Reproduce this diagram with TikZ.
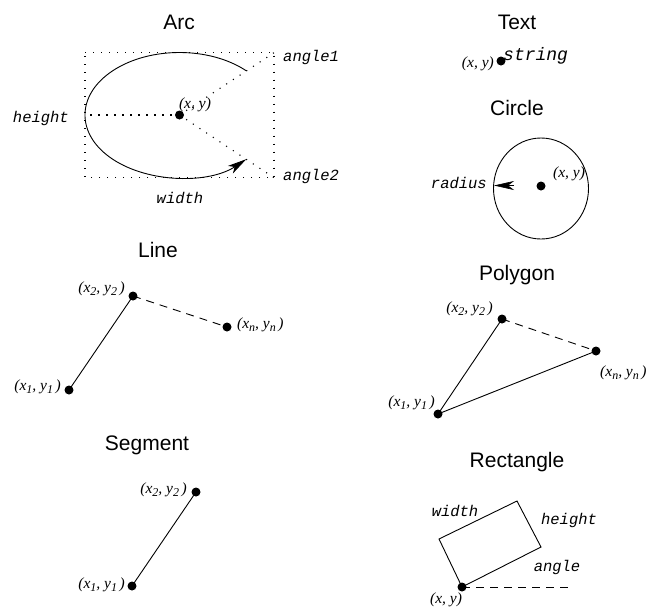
\documentclass[tikz,border=0pt]{standalone}
\usepackage{fontspec}
\setmainfont{Liberation Serif}
\newfontfamily\titlef{Liberation Sans}
\newfontfamily\monof{Liberation Mono}
\usetikzlibrary{arrows.meta}
\newcommand{\sbs}[1]{\raisebox{-0.45ex}{\fontsize{12}{12}\selectfont #1}}
\begin{document}
\begin{tikzpicture}[x=1pt,y=1pt,
  ttl/.style={font=\titlef\fontsize{21}{21}\selectfont, inner sep=0},
  mono/.style={font=\monof\itshape\fontsize{15.5}{16}\selectfont, inner sep=0},
  crd/.style={font=\itshape\fontsize{15.5}{16}\selectfont, inner sep=0},
  dot/.style={circle,fill,inner sep=0,minimum size=9pt},
  ln/.style={line width=0.9pt},
  dsh/.style={line width=0.9pt,dash pattern=on 8pt off 6pt},
  dtd/.style={line width=1.1pt,dash pattern=on 1.1pt off 6.9pt},
  tip/.style={-{Stealth[length=19pt,width=9pt,inset=5pt]}}
]
\useasboundingbox (0,0) rectangle (655,-606);

% ---------------- Arc ----------------
\node[ttl] (arct) at (179,-22) {Arc};
\coordinate (rtl) at (85,-52.7);
\coordinate (rtr) at (274,-52.7);
\coordinate (rbr) at (274,-177.7);
\coordinate (rbl) at (85,-177.7);
\coordinate (rml) at (85,-115);
\draw[dtd] (rtl) -- (rtr) -- (rbr) -- (rbl) -- cycle;
\node[dot] (arcc) at (179.5,-115) {};
\draw[dtd] (arcc.center) -- (rtr);
\draw[dtd] (arcc.center) -- (rbr);
\draw[dtd] (arcc.center) -- (rml);
\coordinate (arcs) at (246.3,-70.8);
\draw[ln,tip] (arcs) arc[start angle=45,end angle=315,x radius=94.5,y radius=62.5];
\node[crd] (arcxy) at (195,-105) {(x, y)};
\node[mono,anchor=west] (ang1) at (283,-57) {angle1};
\node[mono,anchor=west] (ang2) at (283,-176) {angle2};
\node[mono,anchor=east] (hgt) at (69,-118) {height};
\node[mono] (wid) at (180,-198) {width};

% ---------------- Text ----------------
\node[ttl] (textt) at (517,-22) {Text};
\node[dot] (txtd) at (501,-61) {};
\node[mono,anchor=base west,font=\monof\itshape\fontsize{18}{18}\selectfont] (str) at (503,-60) {string};
\node[crd,anchor=east] (txtxy) at (494,-64) {(x, y)};

% ---------------- Circle ----------------
\node[ttl] (circt) at (517,-108) {Circle};
\draw[ln] (541,-188.5) ellipse [x radius=47.5, y radius=50.5];
\node[dot] (circd) at (541,-186) {};
\node[crd] (circxy) at (569,-174) {(x, y)};
\node[mono,anchor=east] (rad) at (487,-183) {radius};
\coordinate (radb) at (514,-185.5);
\coordinate (radt) at (494,-185.5);
\draw[line width=0.6pt,-{Stealth[length=20pt,width=9pt,inset=6pt]}] (radb) -- (radt);

% ---------------- Line ----------------
\node[ttl] (linet) at (158,-250) {Line};
\node[dot] (l2) at (133,-296) {};
\node[dot] (ln) at (227,-327) {};
\node[dot] (l1) at (69,-390) {};
\draw[ln] (l1.center) -- (l2.center);
\draw[dsh] (l2.center) -- (ln.center);
\node[crd,anchor=east] (l2l) at (125,-289) {(x\sbs{2}, y\sbs{2}\,)};
\node[crd,anchor=west] (lnl) at (237,-325) {(x\sbs{n}, y\sbs{n}\,)};
\node[crd,anchor=east] (l1l) at (61,-387) {(x\sbs{1}, y\sbs{1}\,)};

% ---------------- Polygon ----------------
\node[ttl] (polyt) at (517,-275) {Polygon};
\node[dot] (p2) at (502,-319) {};
\node[dot] (pn) at (596,-351) {};
\node[dot] (p1) at (438,-414) {};
\draw[ln] (p1.center) -- (p2.center);
\draw[dsh] (p2.center) -- (pn.center);
\draw[ln] (pn.center) -- (p1.center);
\node[crd,anchor=east] (p2l) at (493,-309) {(x\sbs{2}, y\sbs{2}\,)};
\node[crd,anchor=west] (pnl) at (600,-373) {(x\sbs{n}, y\sbs{n}\,)};
\node[crd,anchor=east] (p1l) at (435,-403) {(x\sbs{1}, y\sbs{1}\,)};

% ---------------- Segment ----------------
\node[ttl] (segt) at (147,-445) {Segment};
\node[dot] (s2) at (196,-492) {};
\node[dot] (s1) at (132,-586) {};
\draw[ln] (s1.center) -- (s2.center);
\node[crd,anchor=east] (s2l) at (187,-490) {(x\sbs{2}, y\sbs{2}\,)};
\node[crd,anchor=east] (s1l) at (125,-585) {(x\sbs{1}, y\sbs{1}\,)};

% ---------------- Rectangle ----------------
\node[ttl] (rectt) at (517,-462) {Rectangle};
\node[dot] (ra) at (462,-587) {};
\coordinate (rb) at (541,-547);
\coordinate (rc) at (517,-501);
\coordinate (rd) at (439,-539);
\coordinate (re) at (572,-587);
\draw[ln] (ra.center) -- (rb) -- (rc) -- (rd) -- cycle;
\draw[dsh] (ra.center) -- (re);
\node[mono] (rwid) at (455,-511) {width};
\node[mono] (rhgt) at (569,-520) {height};
\node[mono] (rang) at (557,-567) {angle};
\node[crd] (rxy) at (446,-600) {(x, y)};
\end{tikzpicture}
\end{document}
